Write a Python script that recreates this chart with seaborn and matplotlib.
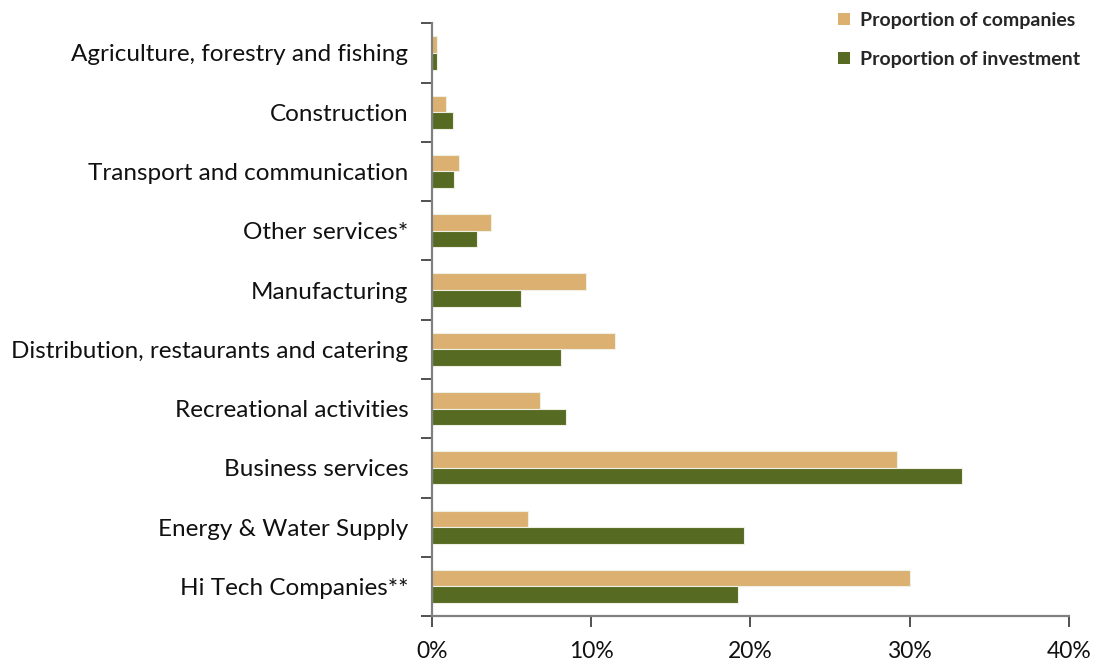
import matplotlib
matplotlib.use("Agg")
import matplotlib.pyplot as plt
from matplotlib.ticker import FixedLocator, FuncFormatter
import seaborn as sns
import pandas as pd

sectors = [
    "Agriculture, forestry and fishing",
    "Construction",
    "Transport and communication",
    "Other services*",
    "Manufacturing",
    "Distribution, restaurants and catering",
    "Recreational activities",
    "Business services",
    "Energy & Water Supply",
    "Hi Tech Companies**",
]
companies_pct = [0.3, 0.9, 1.7, 3.7, 9.7, 11.5, 6.8, 29.2, 6.0, 30.0]
investment_pct = [0.3, 1.3, 1.4, 2.8, 5.6, 8.1, 8.4, 33.3, 19.6, 19.2]
series_names = ["Proportion of companies", "Proportion of investment"]
x_ticks = [0, 10, 20, 30, 40]

df = pd.DataFrame({
    "sector": sectors * 2,
    "value": companies_pct + investment_pct,
    "series": [series_names[0]] * len(sectors) + [series_names[1]] * len(sectors),
})

sns.set_theme(style="white")
plt.rcParams["font.family"] = ["Lato", "DejaVu Sans"]

palette = {series_names[0]: "#DCB070", series_names[1]: "#566A22"}

fig = plt.figure(figsize=(11.02, 6.66), dpi=100)
ax = fig.add_axes([0.392, 0.075, 0.578, 0.890])

sns.barplot(
    data=df, x="value", y="sector", hue="series", order=sectors,
    hue_order=series_names, palette=palette, orient="h", width=0.56,
    edgecolor="#EEF0E4", linewidth=0.8, saturation=1, ax=ax, legend=False,
)

ax.set_xlim(0, 40)
ax.set_ylim(len(sectors) - 0.5, -0.5)
ax.xaxis.set_major_locator(FixedLocator(x_ticks))
ax.xaxis.set_major_formatter(FuncFormatter(lambda v, _: f"{v:.0f}%"))
ax.set_xlabel("")
ax.set_ylabel("")

# category labels at centers, tick marks at the boundaries between categories
ax.yaxis.set_minor_locator(FixedLocator([i - 0.5 for i in range(len(sectors) + 1)]))
ax.tick_params(axis="y", which="major", length=0, pad=17, labelsize=17.5, labelcolor="#111111")
ax.tick_params(axis="y", which="minor", length=8, width=1.2, color="#333333", left=True, direction="out")
ax.tick_params(axis="x", which="major", length=8, width=1.2, color="#333333", bottom=True,
               direction="out", pad=10, labelsize=16.5, labelcolor="#111111")

for side in ("top", "right"):
    ax.spines[side].set_visible(False)
for side in ("left", "bottom"):
    ax.spines[side].set_color("#808080")
    ax.spines[side].set_linewidth(1.6)

# legend in the top right corner
handles = [plt.Rectangle((0, 0), 1, 1, facecolor=palette[s], edgecolor="none") for s in series_names]
fig.legend(handles, series_names, loc="upper left", bbox_to_anchor=(0.745, 1.008),
           frameon=False, prop={"weight": "bold", "size": 14},
           handlelength=0.6, handleheight=0.6, handletextpad=0.5, labelspacing=1.1)

fig.savefig("out.png", dpi=100)
